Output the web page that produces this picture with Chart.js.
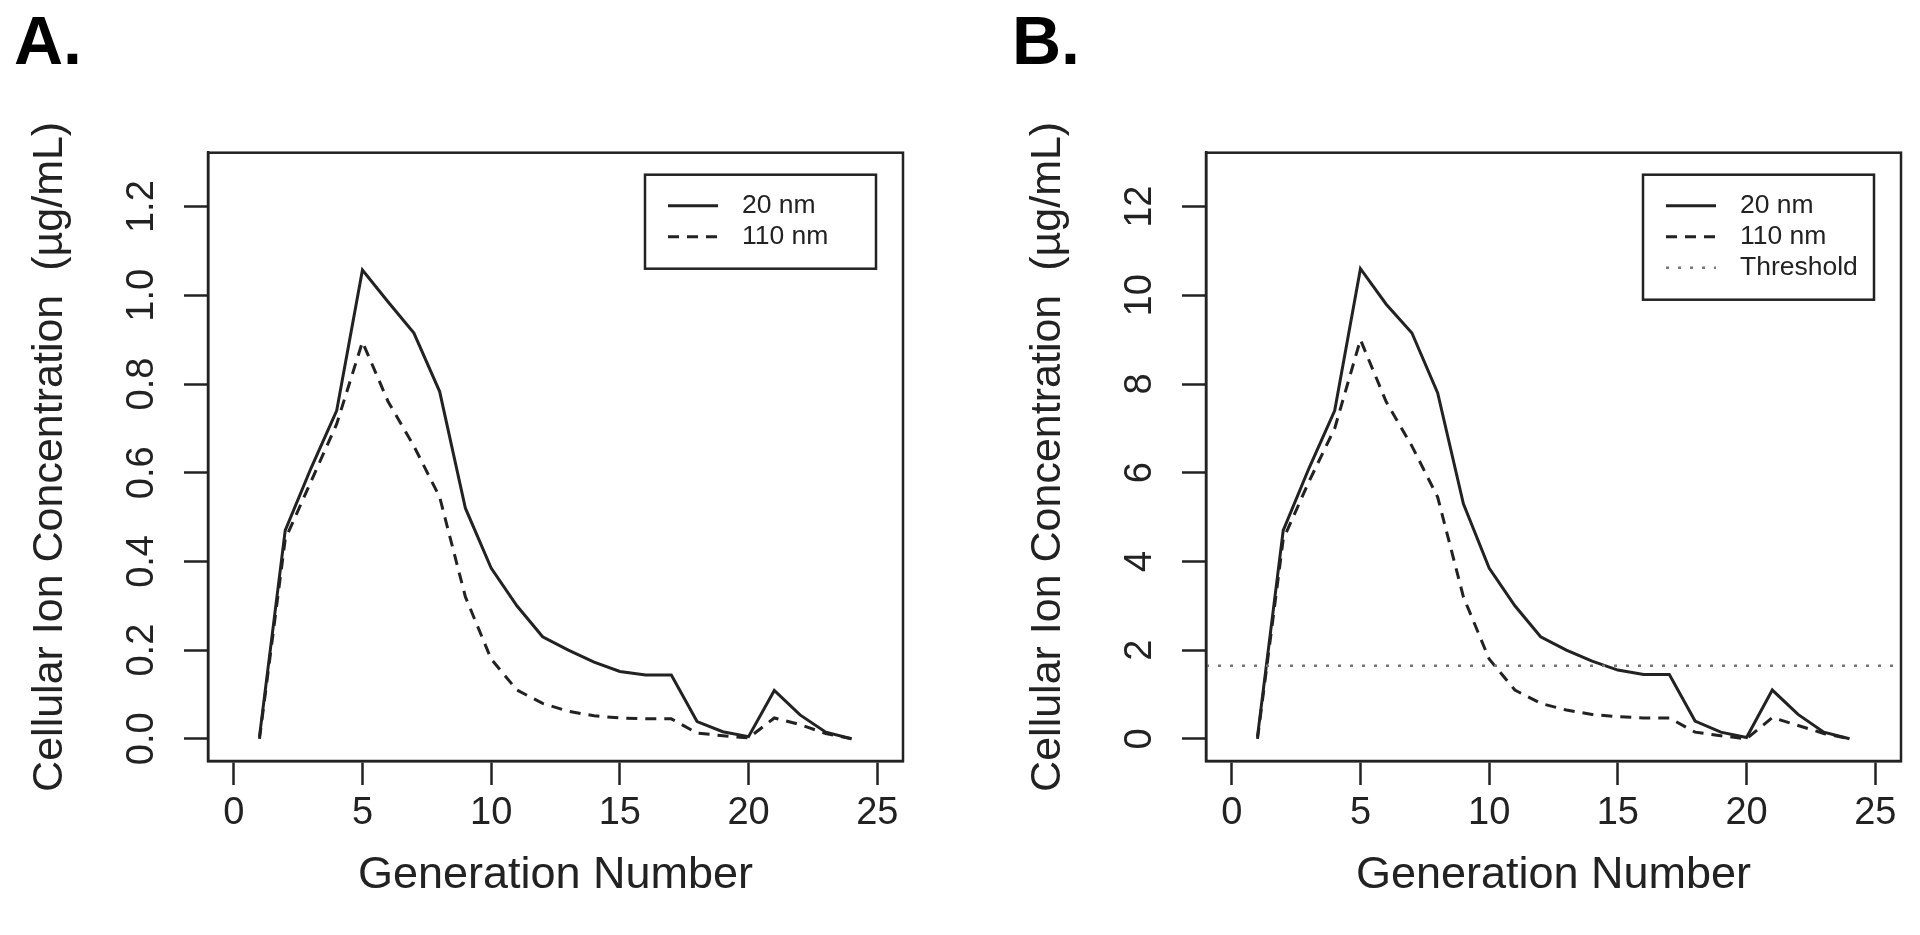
<!DOCTYPE html>
<html>
<head>
<meta charset="utf-8">
<script src="https://cdn.jsdelivr.net/npm/chart.js@4.4.0/dist/chart.umd.min.js"></script>
<style>
  html, body { margin: 0; padding: 0; background: #fff; }
  body { width: 1920px; height: 935px; position: relative; overflow: hidden; font-family: 'Liberation Sans', Arial, sans-serif; }
  .panel { position: absolute; top: 0; width: 922px; height: 935px; }
  .tag { position: absolute; top: 6px; font-size: 68px; font-weight: bold; line-height: 1; color: #000; }
</style>
</head>
<body>
<div class="tag" style="left:14px">A.</div>
<div class="tag" style="left:1012px">B.</div>
<div class="panel" style="left:0"><canvas id="chartA"></canvas></div>
<div class="panel" style="left:998px"><canvas id="chartB"></canvas></div>
<script>
//DATA
const generations = [1, 2, 3, 4, 5, 6, 7, 8, 9, 10, 11, 12, 13, 14, 15, 16, 17, 18, 19, 20, 21, 22, 23, 24]

const nm20A = [0.005, 0.47, 0.61, 0.74, 1.057, 0.985, 0.915, 0.783, 0.52, 0.385, 0.30, 0.23, 0.20, 0.173, 0.152, 0.144, 0.144, 0.039, 0.016, 0.005, 0.109, 0.054, 0.015, 0.0]
const nm110A = [0.0, 0.45, 0.58, 0.71, 0.895, 0.76, 0.66, 0.545, 0.32, 0.18, 0.11, 0.08, 0.062, 0.052, 0.047, 0.045, 0.045, 0.013, 0.007, 0.002, 0.047, 0.032, 0.012, 0.0]

const nm20B = [0.05, 4.7, 6.1, 7.4, 10.6, 9.8, 9.15, 7.8, 5.3, 3.85, 3.0, 2.3, 2.0, 1.75, 1.55, 1.45, 1.45, 0.4, 0.15, 0.03, 1.1, 0.55, 0.15, 0.0]
const nm110B = [0.0, 4.5, 5.8, 7.0, 9.0, 7.6, 6.6, 5.45, 3.2, 1.8, 1.1, 0.8, 0.65, 0.55, 0.5, 0.47, 0.47, 0.15, 0.07, 0.0, 0.48, 0.3, 0.12, 0.0]
const thresholdB = 1.65

const xTicks = [0, 5, 10, 15, 20, 25]
const yTicksA = [0, 0.2, 0.4, 0.6, 0.8, 1.0, 1.2]
const yTickLabelsA = ['0.0', '0.2', '0.4', '0.6', '0.8', '1.0', '1.2']
const yTicksB = [0, 2, 4, 6, 8, 10, 12]
const yTickLabelsB = ['0', '2', '4', '6', '8', '10', '12']

const legendA = ['20 nm', '110 nm']
const legendB = ['20 nm', '110 nm', 'Threshold']

const FONT = "'Liberation Sans', Arial, sans-serif"
const INK = '#222'

//BUILD ONE DATASET
function lineSet(pLabel, pValues, pDash) {
  return {
    label: pLabel,
    data: generations.map((g, i) => ({ x: g, y: pValues[i] })),
    borderColor: INK,
    borderWidth: 3,
    borderDash: pDash,
    pointRadius: 0,
    tension: 0,
    fill: false
  }
}

//BOX, ROTATED Y LABELS, LEGEND, THRESHOLD
function panelPlugin(pYLabels, pLegend, pThreshold) {
  return {
    id: 'panelExtras',
    afterDatasetsDraw(chart) {
      const ctx = chart.ctx
      const area = chart.chartArea
      const yScale = chart.scales.y

      if (pThreshold !== undefined) {
        const py = yScale.getPixelForValue(pThreshold)
        ctx.save()
        ctx.strokeStyle = '#777'
        ctx.lineWidth = 2.5
        ctx.setLineDash([3, 9])
        ctx.beginPath()
        ctx.moveTo(area.left, py)
        ctx.lineTo(area.right, py)
        ctx.stroke()
        ctx.restore()
      }
    },
    afterDraw(chart) {
      const ctx = chart.ctx
      const area = chart.chartArea
      const yScale = chart.scales.y

      ctx.save()
      ctx.strokeStyle = INK
      ctx.lineWidth = 2.5
      ctx.strokeRect(area.left, area.top, area.right - area.left, area.bottom - area.top)

      // y tick labels, parallel to the axis
      ctx.fillStyle = INK
      ctx.font = '38px ' + FONT
      ctx.textAlign = 'center'
      ctx.textBaseline = 'alphabetic'
      yScale.ticks.forEach((t, i) => {
        ctx.save()
        ctx.translate(area.left - 55, yScale.getPixelForValue(t.value))
        ctx.rotate(-Math.PI / 2)
        ctx.fillText(pYLabels[i], 0, 0)
        ctx.restore()
      })

      // legend
      const lx = area.left + 437
      const ly = area.top + 22
      const rowH = 31
      const boxH = rowH * pLegend.length + 32
      ctx.lineWidth = 2.5
      ctx.strokeRect(lx, ly, 231, boxH)
      ctx.font = '26.5px ' + FONT
      ctx.textAlign = 'left'
      ctx.textBaseline = 'middle'
      pLegend.forEach((txt, i) => {
        const ry = ly + rowH * (i + 1)
        ctx.save()
        if (i === 2) {
          ctx.strokeStyle = '#777'
          ctx.setLineDash([3, 9])
        } else {
          ctx.strokeStyle = INK
          ctx.setLineDash(i === 1 ? [11, 8] : [])
        }
        ctx.lineWidth = i === 2 ? 2.5 : 3
        ctx.beginPath()
        ctx.moveTo(lx + 23, ry)
        ctx.lineTo(lx + 73, ry)
        ctx.stroke()
        ctx.restore()
        ctx.fillText(txt, lx + 97, ry)
      })
      ctx.restore()
    }
  }
}

//BUILD ONE PANEL
function handlePanel(pId, pSolid, pDashed, pYMin, pYMax, pYTicks, pYLabels, pLegend, pThreshold) {
  const cvx = document.getElementById(pId)

  let dados = {
    datasets: [
      lineSet('20 nm', pSolid, []),
      lineSet('110 nm', pDashed, [11, 8])
    ]
  }

  let options = {
    responsive: true,
    maintainAspectRatio: false,
    animation: false,
    layout: { padding: { left: 0, top: 152.7, right: 19, bottom: 0 } },
    plugins: { legend: { display: false }, tooltip: { enabled: false } },
    scales: {
      x: {
        type: 'linear',
        min: -1,
        max: 26,
        afterBuildTicks: s => { s.ticks = xTicks.map(v => ({ value: v })) },
        afterFit: s => { s.height = 174 },
        grid: { drawOnChartArea: false, drawTicks: true, tickLength: 24, tickWidth: 2.5, tickColor: INK },
        border: { display: true, color: INK, width: 2.5 },
        ticks: { color: INK, padding: 6, maxRotation: 0, font: { family: FONT, size: 38 }, callback: v => String(v) },
        title: { display: true, text: 'Generation Number', color: INK, font: { family: FONT, size: 45 }, padding: { top: 0, bottom: 32 } }
      },
      y: {
        type: 'linear',
        min: pYMin,
        max: pYMax,
        afterBuildTicks: s => { s.ticks = pYTicks.map(v => ({ value: v })) },
        afterFit: s => { s.width = 208 },
        grid: { drawOnChartArea: false, drawTicks: true, tickLength: 24, tickWidth: 2.5, tickColor: INK },
        border: { display: true, color: INK, width: 2.5 },
        ticks: { display: false },
        title: { display: true, text: 'Cellular Ion Concentration  (µg/mL)', color: INK, font: { family: FONT, size: 43 }, padding: { top: 24, bottom: 0 } }
      }
    }
  }

  new Chart(cvx, {
    type: 'line',
    data: dados,
    options: options,
    plugins: [panelPlugin(pYLabels, pLegend, pThreshold)]
  })
}

handlePanel('chartA', nm20A, nm110A, -0.05, 1.3216, yTicksA, yTickLabelsA, legendA)
handlePanel('chartB', nm20B, nm110B, -0.5, 13.216, yTicksB, yTickLabelsB, legendB, thresholdB)
</script>
</body>
</html>
